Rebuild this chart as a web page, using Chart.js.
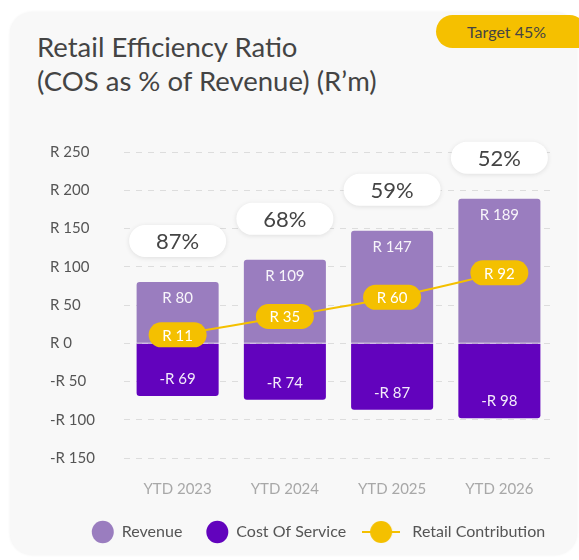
<!DOCTYPE html>
<html>
<head>
<meta charset="utf-8">
<script src="https://cdn.jsdelivr.net/npm/chart.js@4.4.1/dist/chart.umd.min.js"></script>
<style>
  html, body { margin:0; padding:0; background:#ffffff; width:579px; height:560px; overflow:hidden; font-family: Lato, "Open Sans", sans-serif; }
  #card { position:absolute; left:10px; top:12px; width:567px; height:543px; background:#f8f8f8; border-radius:22px; box-shadow:0 0 3px rgba(0,0,0,0.06); }
  #badge { position:absolute; left:436px; top:15px; width:150px; height:33px; background:#f5c000; border-radius:17px 17px 0 17px; color:#444; font-size:16px; line-height:33px; text-indent:31px; }
  #title { position:absolute; left:37px; top:30px; color:#444; font-size:27.5px; line-height:34px; font-weight:400; }
  #wrap { position:absolute; left:0; top:0; width:579px; height:560px; }
</style>
</head>
<body>
<div id="card"></div>
<div id="badge">Target 45%</div>
<div id="title">Retail Efficiency Ratio<br>(COS as % of Revenue) (R’m)</div>
<div id="wrap"><canvas id="c" width="579" height="560"></canvas></div>
<script>
const categories = ['YTD 2023', 'YTD 2024', 'YTD 2025', 'YTD 2026'];
const revenue = [80, 109, 147, 189];
const costOfService = [-69, -74, -87, -98];
const retailContribution = [11, 35, 60, 92];
const ratioLabels = ['87%', '68%', '59%', '52%'];
const yTicks = [250, 200, 150, 100, 50, 0, -50, -100, -150];

const COL_REV = '#9a7dbf';
const COL_COS = '#6203bd';
const COL_LINE = '#f4c000';
const FONT = 'Lato, sans-serif';

function money(v) { return (v < 0 ? '-R ' : 'R ') + Math.abs(v); }

function roundRect(ctx, x, y, w, h, r) {
  ctx.beginPath();
  ctx.moveTo(x + r, y);
  ctx.lineTo(x + w - r, y);
  ctx.arc(x + w - r, y + r, r, -Math.PI/2, 0);
  ctx.lineTo(x + w, y + h - r);
  ctx.arc(x + w - r, y + h - r, r, 0, Math.PI/2);
  ctx.lineTo(x + r, y + h);
  ctx.arc(x + r, y + h - r, r, Math.PI/2, Math.PI);
  ctx.lineTo(x, y + r);
  ctx.arc(x + r, y + r, r, Math.PI, Math.PI*1.5);
  ctx.closePath();
}

// legend icon for the line series
const lineIcon = document.createElement('canvas');
lineIcon.width = 38; lineIcon.height = 24;
(function(){
  const g = lineIcon.getContext('2d');
  g.strokeStyle = COL_LINE; g.lineWidth = 2;
  g.beginPath(); g.moveTo(0, 12); g.lineTo(38, 12); g.stroke();
  g.fillStyle = COL_LINE;
  g.beginPath(); g.arc(19, 12, 11, 0, Math.PI*2); g.fill();
})();

const legendShift = {
  id: 'legendShift',
  afterLayout(chart) {
    const lg = chart.legend;
    if (!lg) return;
    lg.left += 17; lg.right += 17;
    lg.top += 4; lg.bottom += 4;
  }
};

const labelsPlugin = {
  id: 'labelsPlugin',
  afterDatasetsDraw(chart) {
    const ctx = chart.ctx;
    const revMeta = chart.getDatasetMeta(0);
    const cosMeta = chart.getDatasetMeta(1);
    const lineMeta = chart.getDatasetMeta(2);
    ctx.save();
    ctx.textAlign = 'center';
    ctx.textBaseline = 'middle';
    ctx.font = '15px ' + FONT;
    ctx.fillStyle = 'rgba(255,255,255,0.92)';
    revMeta.data.forEach((el, i) => {
      ctx.fillText(money(revenue[i]), el.x, el.y + 16);
    });
    cosMeta.data.forEach((el, i) => {
      ctx.fillText(money(costOfService[i]), el.x, el.y - 17);
    });
    revMeta.data.forEach((el, i) => {
      const w = 97, h = 32;
      const cx = el.x, cy = el.y - 41;
      ctx.save();
      ctx.shadowColor = 'rgba(0,0,0,0.10)';
      ctx.shadowBlur = 5;
      ctx.shadowOffsetY = 1;
      ctx.fillStyle = '#ffffff';
      roundRect(ctx, cx - w/2, cy - h/2, w, h, h/2);
      ctx.fill();
      ctx.restore();
      ctx.fillStyle = '#444';
      ctx.font = '22px ' + FONT;
      ctx.fillText(ratioLabels[i], cx, cy + 1);
    });
    lineMeta.data.forEach((el, i) => {
      const w = 58, h = 25;
      ctx.fillStyle = COL_LINE;
      roundRect(ctx, el.x - w/2, el.y - h/2, w, h, h/2);
      ctx.fill();
      ctx.fillStyle = '#ffffff';
      ctx.font = '15px ' + FONT;
      ctx.fillText(money(retailContribution[i]), el.x, el.y + 1);
    });
    ctx.restore();
  }
};

new Chart(document.getElementById('c'), {
  type: 'bar',
  data: {
    labels: categories,
    datasets: [
      { label: 'Revenue', data: revenue, backgroundColor: COL_REV, stack: 's', borderRadius: 3, borderSkipped: 'start', order: 2 },
      { label: 'Cost Of Service', data: costOfService, backgroundColor: COL_COS, stack: 's', borderRadius: 3, borderSkipped: 'start', order: 2 },
      { label: 'Retail Contribution', type: 'line', data: retailContribution, borderColor: COL_LINE, backgroundColor: COL_LINE, borderWidth: 2, tension: 0.35, pointRadius: 0, order: 0 }
    ]
  },
  options: {
    responsive: false,
    animation: false,
    layout: { padding: { left: 50, right: 26, top: 152, bottom: 14 } },
    datasets: { bar: { categoryPercentage: 1, barPercentage: 0.765 } },
    scales: {
      x: {
        stacked: true,
        afterFit(s) { s.height = 38; },
        grid: { display: false, drawTicks: false },
        border: { display: false },
        ticks: { color: '#a8a8a8', font: { size: 15, family: FONT }, padding: 22 }
      },
      y: {
        stacked: true,
        min: -150, max: 250,
        afterFit(s) { s.width = 74; },
        afterBuildTicks(s) { s.ticks = yTicks.map(v => ({ value: v })); },
        ticks: { color: '#555', font: { size: 15, family: FONT }, padding: 30, crossAlign: 'far', callback: v => money(v) },
        grid: { color: '#dddddd', drawTicks: false, lineWidth: 1 },
        border: { display: false, dash: [6, 6] }
      }
    },
    plugins: {
      tooltip: { enabled: false },
      legend: {
        position: 'bottom',
        labels: {
          usePointStyle: true,
          pointStyleWidth: 22,
          boxHeight: 16,
          padding: 24,
          color: '#555',
          font: { size: 16, family: FONT },
          generateLabels(chart) {
            return chart.data.datasets.map((d, i) => ({
              text: i === 2 ? '   ' + d.label : d.label,
              fillStyle: d.backgroundColor,
              strokeStyle: d.backgroundColor,
              lineWidth: 0,
              pointStyle: i === 2 ? lineIcon : 'circle',
              hidden: false,
              datasetIndex: i,
              fontColor: '#555'
            }));
          }
        }
      }
    }
  },
  plugins: [labelsPlugin, legendShift]
});
</script>
</body>
</html>
